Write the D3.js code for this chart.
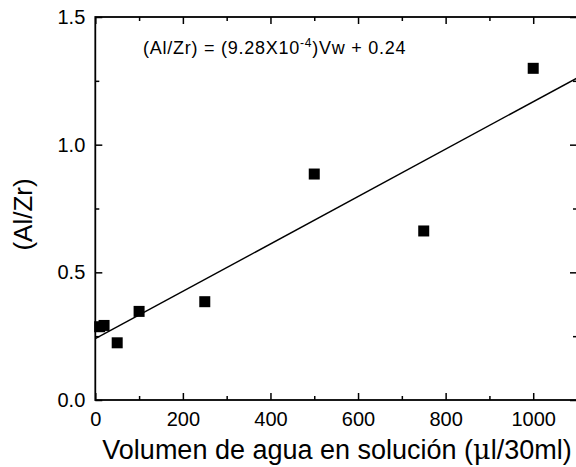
<!DOCTYPE html>
<html><head><meta charset="utf-8">
<script src="https://cdn.jsdelivr.net/npm/d3@7"></script>
<style>
body{margin:0;background:#fff;}
svg{display:block;font-family:Arial,"Liberation Sans",sans-serif;}
</style></head>
<body><svg id="c" width="576" height="467"></svg>
<script>
const volumes = [10, 20, 50, 100, 250, 500, 750, 1000];
const ratios = [0.287, 0.292, 0.224, 0.347, 0.385, 0.885, 0.662, 1.299];
const fitSlope = 9.28e-4;
const fitIntercept = 0.24;
const xMajorTicks = [0, 200, 400, 600, 800, 1000];
const xMinorTicks = [100, 300, 500, 700, 900, 1100];
const yMajorTicks = [0, 0.5, 1.0, 1.5];
const yMinorTicks = [0.25, 0.75, 1.25];

const svg = d3.select("#c");
const L = 95.3, R = 577, T = 17, B = 400;
const x = d3.scaleLinear().domain([0, 1100]).range([L, R]);
const y = d3.scaleLinear().domain([0, 1.5]).range([B, T]);

function styleAxis(g){
  g.selectAll(".domain").remove();
  g.selectAll("line").attr("stroke","#000").attr("stroke-width",1.5);
  g.selectAll("text").attr("fill","#000").style("font-size","20px").style("font-family","Arial, 'Liberation Sans', sans-serif");
}
// bottom
svg.append("g").attr("transform",`translate(0,${B})`)
  .call(d3.axisBottom(x).tickValues(xMajorTicks).tickSizeInner(-7).tickSizeOuter(0).tickPadding(12).tickFormat(d3.format("d")))
  .call(styleAxis);
svg.append("g").attr("transform",`translate(0,${B})`)
  .call(d3.axisBottom(x).tickValues(xMinorTicks).tickSizeInner(-4).tickSizeOuter(0).tickFormat(""))
  .call(styleAxis);
// top
svg.append("g").attr("transform",`translate(0,${T})`)
  .call(d3.axisTop(x).tickValues(xMajorTicks).tickSizeInner(-7).tickSizeOuter(0).tickFormat(""))
  .call(styleAxis);
svg.append("g").attr("transform",`translate(0,${T})`)
  .call(d3.axisTop(x).tickValues(xMinorTicks).tickSizeInner(-4).tickSizeOuter(0).tickFormat(""))
  .call(styleAxis);
// left
svg.append("g").attr("transform",`translate(${L},0)`)
  .call(d3.axisLeft(y).tickValues(yMajorTicks).tickSizeInner(-7).tickSizeOuter(0).tickPadding(10).tickFormat(d3.format(".1f")))
  .call(styleAxis);
svg.append("g").attr("transform",`translate(${L},0)`)
  .call(d3.axisLeft(y).tickValues(yMinorTicks).tickSizeInner(-4).tickSizeOuter(0).tickFormat(""))
  .call(styleAxis);
// right
svg.append("g").attr("transform",`translate(${R},0)`)
  .call(d3.axisRight(y).tickValues(yMajorTicks).tickSizeInner(-7).tickSizeOuter(0).tickFormat(""))
  .call(styleAxis);
svg.append("g").attr("transform",`translate(${R},0)`)
  .call(d3.axisRight(y).tickValues(yMinorTicks).tickSizeInner(-4).tickSizeOuter(0).tickFormat(""))
  .call(styleAxis);

// frame
svg.append("rect").attr("x",L).attr("y",T).attr("width",R-L).attr("height",B-T)
  .attr("fill","none").attr("stroke","#000").attr("stroke-width",1.8);

// fit line
const xd = x.domain();
svg.append("line")
  .attr("x1",x(xd[0])).attr("y1",y(fitIntercept+fitSlope*xd[0]))
  .attr("x2",x(xd[1])).attr("y2",y(fitIntercept+fitSlope*xd[1]))
  .attr("stroke","#000").attr("stroke-width",1.4);

// points
const s = 11;
svg.append("g").selectAll("rect").data(volumes.map((v,i)=>[v,ratios[i]])).join("rect")
  .attr("x",d=>x(d[0])-s/2).attr("y",d=>y(d[1])-s/2).attr("width",s).attr("height",s)
  .attr("fill","#000");

// equation
const eq = svg.append("text").attr("x",143).attr("y",53.5).style("font-size","18px")
  .style("letter-spacing","0.75px").attr("fill","#000");
eq.append("tspan").text("(Al/Zr) = (9.28X10");
eq.append("tspan").attr("dy",-7).style("font-size","12px").text("-4");
eq.append("tspan").attr("dy",7).text(")Vw + 0.24");

// axis titles
const xt = svg.append("text").attr("x",337).attr("y",459).attr("text-anchor","middle")
  .style("font-size","27px").attr("fill","#000");
xt.append("tspan").text("Volumen de agua en solución (");
xt.append("tspan").style("font-family","'DejaVu Serif','Liberation Serif',serif").text("μ");
xt.append("tspan").text("l/30ml)");

svg.append("text").attr("transform",`translate(32,214.5) rotate(-90)`).attr("text-anchor","middle")
  .style("font-size","26px").attr("fill","#000").text("(Al/Zr)");
</script></body></html>
